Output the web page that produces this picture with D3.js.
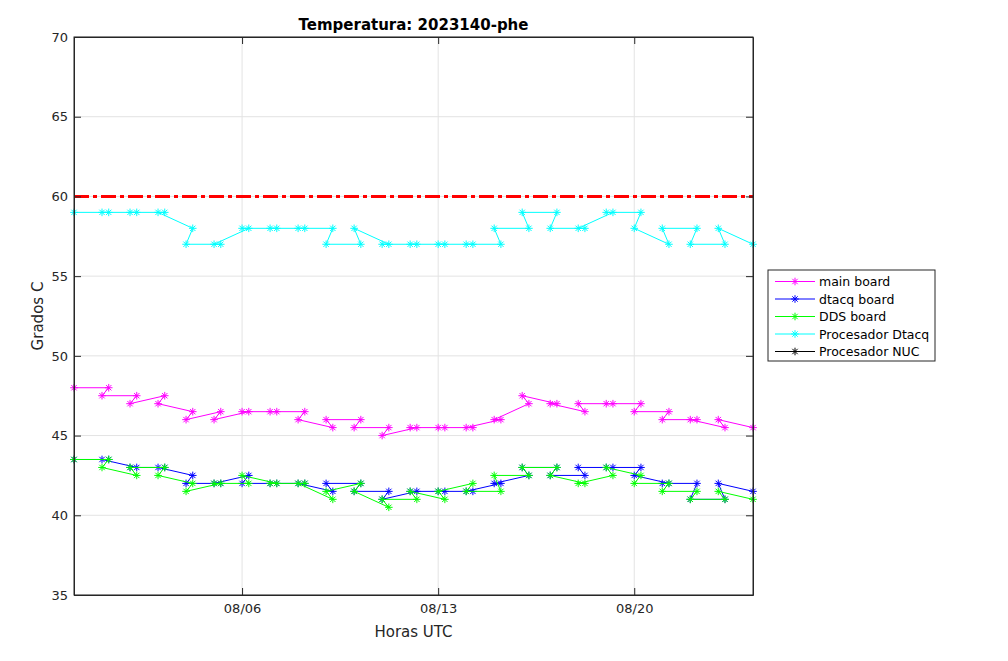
<!DOCTYPE html>
<html>
<head>
<meta charset="utf-8">
<script src="https://cdn.jsdelivr.net/npm/d3@7"></script>
<style>
  body { margin: 0; background: #fff; }
  svg text { font-family: "DejaVu Sans", sans-serif; fill: #262626; }
</style>
</head>
<body>
<div id="chart"></div>
<script>
// reading times, in the order the logger wrote them
const times = [
  "2023-07-31T00:00",
  "2023-08-01T05:45", "2023-08-01T00:00",
  "2023-08-02T05:45", "2023-08-02T00:00",
  "2023-08-03T05:45", "2023-08-03T00:00",
  "2023-08-04T05:45", "2023-08-04T00:00",
  "2023-08-05T05:45", "2023-08-05T00:00",
  "2023-08-06T05:45", "2023-08-06T00:00",
  "2023-08-07T05:45", "2023-08-07T00:00",
  "2023-08-08T05:45", "2023-08-08T00:00",
  "2023-08-09T05:45", "2023-08-09T00:00",
  "2023-08-10T05:45", "2023-08-10T00:00",
  "2023-08-11T05:45", "2023-08-11T00:00",
  "2023-08-12T05:45", "2023-08-12T00:00",
  "2023-08-13T05:45", "2023-08-13T00:00",
  "2023-08-14T05:45", "2023-08-14T00:00",
  "2023-08-15T05:45", "2023-08-15T00:00",
  "2023-08-16T05:45", "2023-08-16T00:00",
  "2023-08-17T05:45", "2023-08-17T00:00",
  "2023-08-18T05:45", "2023-08-18T00:00",
  "2023-08-19T05:45", "2023-08-19T00:00",
  "2023-08-20T05:45", "2023-08-20T00:00",
  "2023-08-21T05:45", "2023-08-21T00:00",
  "2023-08-22T05:45", "2023-08-22T00:00",
  "2023-08-23T05:45", "2023-08-23T00:00",
  "2023-08-24T05:45"
];

const mainBoard = [48, 48, 47.5, 47.5, 47, 47.5, 47, 46.5, 46, 46.5, 46, 46.5, 46.5, 46.5, 46.5, 46.5, 46,
  45.5, 46, 46, 45.5, 45.5, 45, 45.5, 45.5, 45.5, 45.5, 45.5, 45.5, 46, 46, 47, 47.5, 47, 47,
  46.5, 47, 47, 47, 47, 46.5, 46.5, 46, 46, 46, 45.5, 46, 45.5];
const dtacqBoard = [43.5, 43.5, 43.5, 43, 43, 43, 43, 42.5, 42, 42, 42, 42.5, 42, 42, 42, 42, 42,
  41.5, 42, 42, 41.5, 41.5, 41, 41.5, 41.5, 41.5, 41.5, 41.5, 41.5, 42, 42, 42.5, 43, 43, 42.5,
  42.5, 43, 43, 43, 43, 42.5, 42, 42, 42, 41, 41, 42, 41.5];
const ddsBoard = [43.5, 43.5, 43, 42.5, 43, 43, 42.5, 42, 41.5, 42, 42, 42, 42.5, 42, 42, 42, 42,
  41, 41.5, 42, 41.5, 40.5, 41, 41, 41.5, 41, 41.5, 42, 41.5, 41.5, 42.5, 42.5, 43, 43, 42.5,
  42, 42, 42.5, 43, 42.5, 42, 42, 41.5, 41.5, 41, 41, 41.5, 41];
const procDtacq = [59, 59, 59, 59, 59, 59, 59, 58, 57, 57, 57, 58, 58, 58, 58, 58, 58,
  58, 57, 57, 58, 57, 57, 57, 57, 57, 57, 57, 57, 57, 58, 58, 59, 59, 58,
  58, 58, 59, 59, 59, 58, 57, 58, 58, 57, 57, 58, 57];
const procNuc = []; // no readings in this period

const seriesNames = ["main board", "dtacq board", "DDS board", "Procesador Dtacq", "Procesador NUC"];
const seriesColors = ["#ff00ff", "#0000ff", "#00ff00", "#00ffff", "#000000"];
const limitTemp = 60;
const yTicks = [35, 40, 45, 50, 55, 60, 65, 70];
const xTickDates = ["2023-08-06", "2023-08-13", "2023-08-20"];

function starPath(r) {
  const d = r * 0.7071;
  return `M0,${-r}L0,${r}M${-r},0L${r},0M${-d},${-d}L${d},${d}M${-d},${d}L${d},${-d}`;
}

function drawTempChart(targetId) {
  const width = 1008, height = 661;
  const left = 74, right = 753, top = 37, bottom = 595;

  const parseTime = d3.utcParse("%Y-%m-%dT%H:%M");
  const dates = times.map(parseTime);

  const x = d3.scaleUtc().domain(d3.extent(dates)).range([left, right]);
  const y = d3.scaleLinear().domain([35, 70]).range([bottom, top]);

  const svg = d3.select("#" + targetId).append("svg")
    .attr("width", width)
    .attr("height", height);

  const xTicks = xTickDates.map(d => d3.utcParse("%Y-%m-%d")(d));

  // grid
  svg.append("g").selectAll("line.gy")
    .data(yTicks)
    .enter().append("line")
    .attr("x1", left).attr("x2", right)
    .attr("y1", d => y(d)).attr("y2", d => y(d))
    .attr("stroke", "#e3e3e3");
  svg.append("g").selectAll("line.gx")
    .data(xTicks)
    .enter().append("line")
    .attr("x1", d => x(d)).attr("x2", d => x(d))
    .attr("y1", top).attr("y2", bottom)
    .attr("stroke", "#e3e3e3");

  // series
  const allSeries = [mainBoard, dtacqBoard, ddsBoard, procDtacq, procNuc];
  const line = d3.line()
    .defined(d => d.v != null)
    .x(d => x(d.t))
    .y(d => y(d.v));

  allSeries.forEach((vals, i) => {
    const pts = vals.map((v, k) => ({ t: dates[k], v: v }));
    svg.append("path")
      .datum(pts)
      .attr("d", line)
      .attr("fill", "none")
      .attr("stroke", seriesColors[i])
      .attr("stroke-width", 1);
    svg.append("g").selectAll("path")
      .data(pts.filter(p => p.v != null))
      .enter().append("path")
      .attr("transform", d => `translate(${x(d.t)},${y(d.v)})`)
      .attr("d", starPath(3.8))
      .attr("stroke", seriesColors[i])
      .attr("stroke-width", 1)
      .attr("fill", "none");
  });

  // alarm threshold
  svg.append("line")
    .attr("x1", left).attr("x2", right)
    .attr("y1", y(limitTemp)).attr("y2", y(limitTemp))
    .attr("stroke", "#ff0000")
    .attr("stroke-width", 3)
    .attr("stroke-dasharray", "15,4,4,4");

  // axes, ticks pointing in
  const axisColor = "#262626";
  const yAxis = svg.append("g")
    .attr("transform", `translate(${left},0)`)
    .call(d3.axisLeft(y).tickValues(yTicks).tickSizeInner(-7).tickSizeOuter(0).tickPadding(6));
  svg.append("g")
    .attr("transform", `translate(${right},0)`)
    .call(d3.axisRight(y).tickValues(yTicks).tickSizeInner(-7).tickSizeOuter(0).tickFormat(""));
  const xAxis = svg.append("g")
    .attr("transform", `translate(0,${bottom})`)
    .call(d3.axisBottom(x).tickValues(xTicks).tickSizeInner(-7).tickSizeOuter(0).tickPadding(9)
      .tickFormat(d3.utcFormat("%m/%d")));
  svg.append("g")
    .attr("transform", `translate(0,${top})`)
    .call(d3.axisTop(x).tickValues(xTicks).tickSizeInner(-7).tickSizeOuter(0).tickFormat(""));

  svg.selectAll(".domain, .tick line").attr("stroke", axisColor);
  yAxis.selectAll("text").attr("font-size", 13).style("font-family", "DejaVu Sans");
  xAxis.selectAll("text").attr("font-size", 13).style("font-family", "DejaVu Sans");

  svg.append("rect")
    .attr("x", left).attr("y", top)
    .attr("width", right - left).attr("height", bottom - top)
    .attr("fill", "none")
    .attr("stroke", axisColor);

  // labels
  svg.append("text")
    .attr("x", (left + right) / 2).attr("y", 30)
    .attr("text-anchor", "middle")
    .attr("font-size", 15).attr("font-weight", "bold")
    .style("fill", "#000")
    .text("Temperatura: 2023140-phe");
  svg.append("text")
    .attr("x", (left + right) / 2).attr("y", 637)
    .attr("text-anchor", "middle")
    .attr("font-size", 15)
    .text("Horas UTC");
  svg.append("text")
    .attr("transform", `translate(43,${(top + bottom) / 2}) rotate(-90)`)
    .attr("text-anchor", "middle")
    .attr("font-size", 15)
    .text("Grados C");

  // legend
  const lg = svg.append("g").attr("transform", "translate(768,270)");
  lg.append("rect")
    .attr("width", 167).attr("height", 91)
    .attr("fill", "#fff")
    .attr("stroke", axisColor);
  seriesNames.forEach((name, i) => {
    const cy = 11.5 + i * 17.5;
    lg.append("line")
      .attr("x1", 7).attr("x2", 47)
      .attr("y1", cy).attr("y2", cy)
      .attr("stroke", seriesColors[i]);
    lg.append("path")
      .attr("transform", `translate(27,${cy})`)
      .attr("d", starPath(3.8))
      .attr("stroke", seriesColors[i])
      .attr("fill", "none");
    lg.append("text")
      .attr("x", 51).attr("y", cy + 4.5)
      .attr("font-size", 12.5)
      .style("fill", "#000")
      .text(name);
  });
}

drawTempChart("chart");
</script>
</body>
</html>
